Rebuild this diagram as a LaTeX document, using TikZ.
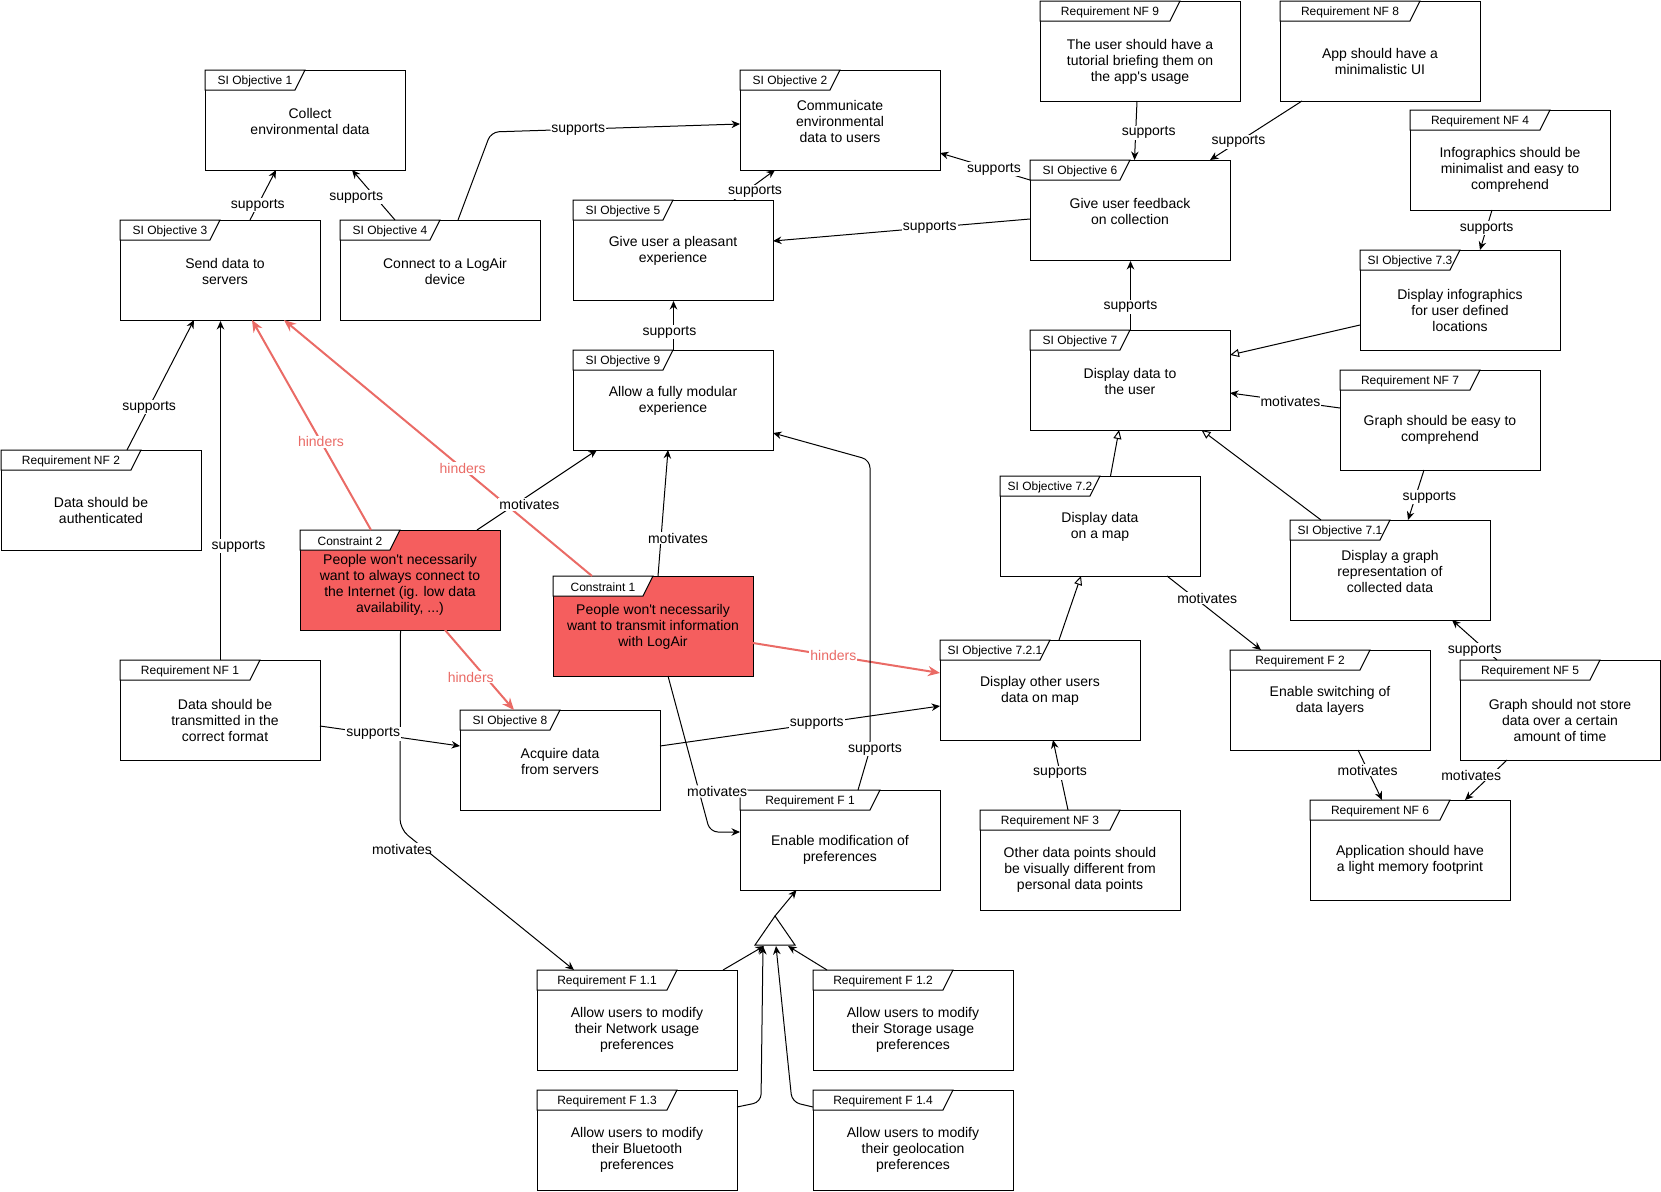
\documentclass[tikz,border=0pt]{standalone}
\usepackage{fontspec}
\setmainfont{Liberation Sans}
\usetikzlibrary{arrows.meta}
\definecolor{hred}{HTML}{EA6B66}
\definecolor{cfill}{HTML}{F55E5E}
\tikzset{
  frame/.style    = {draw, fill=white, line width=1pt, anchor=north west,
                     minimum width=200pt, minimum height=100pt, inner sep=0pt},
  cframe/.style   = {frame, fill=cfill},
  tabshape/.style = {draw, fill=white, line width=1pt},
  hdr/.style      = {font=\fontsize{12}{14}\selectfont, inner sep=0pt},
  body/.style     = {font=\fontsize{14}{16}\selectfont, align=center, inner sep=0pt},
  conn/.style     = {draw, line width=1pt, -{Stealth[length=8.5pt, width=7.5pt]}},
  gen/.style      = {draw, line width=1pt, -{Triangle[open, length=9pt, width=8pt]}},
  hind/.style     = {draw=hred, line width=2pt, -{Stealth[length=12pt, width=10pt]}},
  lbl/.style      = {fill=white, inner sep=1pt, font=\fontsize{14}{16}\selectfont},
  hlbl/.style     = {lbl, text=hred},
}
% frame with tab: [style]{name}{top left}{tab width}{header}{body}{body centre, from top left}
\newcommand{\frm}[7][frame]{%
  \node[#1] (#2) at (#3) {};
  \filldraw[tabshape] (#2.north west) -- ([shift={(#4,0)}]#2.north west)
    -- ([shift={({#4-10},20)}]#2.north west) -- ([shift={(0,20)}]#2.north west) -- cycle;
  \node[hdr] (#2-h) at ([shift={({#4/2},11.5)}]#2.north west) {#5};
  \node[body] (#2-b) at ([shift={(#7)}]#2.north west) {#6};
}
\newcommand{\q}{\textquotesingle}

\begin{document}
\begin{tikzpicture}[x=1pt,y=-1pt]
  \useasboundingbox (0,0) rectangle (1661,1191);

  % objectives
  \frm{sio1}{205,70}{100}{SI Objective 1}{Collect\\environmental data}{105,51}
  \frm{sio2}{740,70}{100}{SI Objective 2}{Communicate\\environmental\\data to users}{100,51}
  \frm{sio3}{120,220}{100}{SI Objective 3}{Send data to\\servers}{105,51}
  \frm{sio4}{340,220}{100}{SI Objective 4}{Connect to a LogAir\\device}{105,51}
  \frm{sio5}{573,200}{100}{SI Objective 5}{Give user a pleasant\\experience}{100,51}
  \frm{sio6}{1030,160}{100}{SI Objective 6}{Give user feedback\\on collection}{100,51}
  \frm{sio7}{1030,330}{100}{SI Objective 7}{Display data to\\the user}{100,51}
  \frm{sio71}{1290,520}{100}{SI Objective 7.1}{Display a graph\\representation of\\collected data}{100,51}
  \frm{sio72}{1000,476}{100}{SI Objective 7.2}{Display data\\on a map}{100,51}
  \frm{sio721}{940,640}{110}{SI Objective 7.2.1}{Display other users\\data on map}{100,51}
  \frm{sio73}{1360,250}{100}{SI Objective 7.3}{Display infographics\\for user defined\\locations}{100,60}
  \frm{sio8}{460,710}{100}{SI Objective 8}{Acquire data\\from servers}{100,51}
  \frm{sio9}{573,350}{100}{SI Objective 9}{Allow a fully modular\\experience}{100,51}

  % constraints
  \frm[cframe]{con1}{553,576}{100}{Constraint 1}{People won\q t necessarily\\want to transmit information\\with LogAir}{100,51}
  \frm[cframe]{con2}{300,530}{100}{Constraint 2}{People won\q t necessarily\\want to always connect to\\the Internet (ig. low data\\availability, ...)}{100,55}

  % requirements
  \frm{nf1}{120,660}{140}{Requirement NF 1}{Data should be\\transmitted in the\\correct format}{105,60}
  \frm{nf2}{1,450}{140}{Requirement NF 2}{Data should be\\authenticated}{100,60}
  \frm{nf3}{980,810}{140}{Requirement NF 3}{Other data points should\\be visually different from\\personal data points}{100,60}
  \frm{nf4}{1410,110}{140}{Requirement NF 4}{Infographics should be\\minimalist and easy to\\comprehend}{100,60}
  \frm{nf5}{1460,660}{140}{Requirement NF 5}{Graph should not store\\data over a certain\\amount of time}{100,60}
  \frm{nf6}{1310,800}{140}{Requirement NF 6}{Application should have\\a light memory footprint}{100,60}
  \frm{nf7}{1340,370}{140}{Requirement NF 7}{Graph should be easy to\\comprehend}{100,60}
  \frm{nf8}{1280,1}{140}{Requirement NF 8}{App should have a\\minimalistic UI}{100,60}
  \frm{nf9}{1040,1}{140}{Requirement NF 9}{The user should have a\\tutorial briefing them on\\the app\q s usage}{100,61}
  \frm{f1}{740,790}{140}{Requirement F 1}{Enable modification of\\preferences}{100,60}
  \frm{f11}{537,970}{140}{Requirement F 1.1}{Allow users to modify\\their Network usage\\preferences}{100,60}
  \frm{f12}{813,970}{140}{Requirement F 1.2}{Allow users to modify\\their Storage usage\\preferences}{100,60}
  \frm{f13}{537,1090}{140}{Requirement F 1.3}{Allow users to modify\\their Bluetooth\\preferences}{100,60}
  \frm{f14}{813,1090}{140}{Requirement F 1.4}{Allow users to modify\\their geolocation\\preferences}{100,60}
  \frm{f2}{1230,650}{140}{Requirement F 2}{Enable switching of\\data layers}{100,51}

  % hinders
  \draw[hind] ([shift={(71,0)}]con2.north west) -- node[hlbl,pos=.42]{hinders} ([shift={(132,100)}]sio3.north west);
  \draw[hind] ([shift={(39,0)}]con1.north west) -- node[hlbl,pos=.42]{hinders} ([shift={(164,100)}]sio3.north west);
  \draw[hind] ([shift={(145,100)}]con2.north west) -- node[hlbl,pos=.59,xshift=-15pt]{hinders} ([shift={(54,0)}]sio8.north west);
  \draw[hind] ([shift={(200,67)}]con1.north west) -- node[hlbl,pos=.43]{hinders} ([shift={(0,33)}]sio721.north west);

  % supports / motivates
  \draw[conn] ([shift={(130,0)}]sio3.north west) -- node[lbl,pos=.3]{supports} ([shift={(71,100)}]sio1.north west);
  \draw[conn] ([shift={(55,0)}]sio4.north west) -- node[lbl,pos=.46,xshift=-19pt]{supports} ([shift={(147,100)}]sio1.north west);
  \draw[conn, rounded corners=8pt] ([shift={(118,0)}]sio4.north west) -- (491,132)
    -- node[lbl,pos=.35]{supports} ([shift={(0,54)}]sio2.north west);
  \draw[conn] ([shift={(0,20)}]sio6.north west) -- node[lbl,pos=.4]{supports} ([shift={(200,83)}]sio2.north west);
  \draw[conn] ([shift={(161,0)}]sio5.north west) -- node[lbl,pos=.27,xshift=10pt]{supports} ([shift={(35,100)}]sio2.north west);
  \draw[conn] ([shift={(0,59)}]sio6.north west) -- node[lbl,pos=.39]{supports} ([shift={(200,41)}]sio5.north west);
  \draw[conn] (sio9.north) -- node[lbl,pos=.36,xshift=-4pt]{supports} (sio5.south);
  \draw[conn] ([shift={(177,0)}]con2.north west) -- node[lbl,pos=.37,xshift=8pt,yshift=-4pt]{motivates} ([shift={(24,100)}]sio9.north west);
  \draw[conn] ([shift={(105,0)}]con1.north west) -- node[lbl,pos=.3,xshift=17pt]{motivates} ([shift={(95,100)}]sio9.north west);
  \draw[conn, rounded corners=10pt] (con2.south) -- (400,829) node[lbl,xshift=2pt,yshift=-20pt]{motivates}
    -- ([shift={(37,0)}]f11.north west);
  \draw[conn, rounded corners=8pt] ([shift={(115,100)}]con1.north west) -- node[lbl,pos=.74,xshift=18pt]{motivates} (710,832)
    -- ([shift={(0,42)}]f1.north west);
  \draw[conn, rounded corners=8pt] ([shift={(118,0)}]f1.north west) -- (870,749) node[lbl,xshift=5pt]{supports}
    -- (870,460) -- ([shift={(200,83)}]sio9.north west);
  \draw[conn] ([shift={(200,36)}]sio8.north west) -- node[lbl,pos=.56]{supports} ([shift={(0,66)}]sio721.north west);
  \draw[conn] ([shift={(200,66)}]nf1.north west) -- node[lbl,pos=.38]{supports} ([shift={(0,36)}]sio8.north west);
  \draw[conn] (nf1.north) -- node[lbl,pos=.335,xshift=18pt]{supports} (sio3.south);
  \draw[conn] ([shift={(126,0)}]nf2.north west) -- node[lbl,pos=.33]{supports} ([shift={(74,100)}]sio3.north west);
  \draw[conn] ([shift={(97,100)}]nf9.north west) -- node[lbl,pos=.54,xshift=13pt]{supports} ([shift={(104.5,0)}]sio6.north west);
  \draw[conn] ([shift={(22,100)}]nf8.north west) -- node[lbl,pos=.69]{supports} ([shift={(180,0)}]sio6.north west);
  \draw[conn] ([shift={(82,100)}]nf4.north west) -- node[lbl,pos=.45]{supports} ([shift={(120,0)}]sio73.north west);
  \draw[conn] (sio7.north) -- node[lbl,pos=.34]{supports} (sio6.south);
  \draw[conn] ([shift={(0,38)}]nf7.north west) -- node[lbl,pos=.45]{motivates} ([shift={(200,63)}]sio7.north west);
  \draw[conn] ([shift={(84,100)}]nf7.north west) -- node[lbl,pos=.54,xshift=14pt]{supports} ([shift={(118,0)}]sio71.north west);
  \draw[conn] ([shift={(167,100)}]sio72.north west) -- node[lbl,pos=.3,xshift=12pt]{motivates} ([shift={(31,0)}]f2.north west);
  \draw[conn] ([shift={(128,100)}]f2.north west) -- node[lbl,pos=.4]{motivates} ([shift={(72,0)}]nf6.north west);
  \draw[conn] ([shift={(47,100)}]nf5.north west) -- node[lbl,pos=.375,xshift=-20pt]{motivates} ([shift={(155,0)}]nf6.north west);
  \draw[conn] ([shift={(37,0)}]nf5.north west) -- node[lbl,pos=.25,xshift=-11pt]{supports} ([shift={(162,100)}]sio71.north west);
  \draw[conn] ([shift={(88,0)}]nf3.north west) -- node[lbl,pos=.53]{supports} ([shift={(113,100)}]sio721.north west);

  % refinements of objective 7
  \draw[gen] ([shift={(0,75)}]sio73.north west) -- ([shift={(200,25)}]sio7.north west);
  \draw[gen] ([shift={(110.5,0)}]sio72.north west) -- ([shift={(89,100)}]sio7.north west);
  \draw[gen] ([shift={(31,0)}]sio71.north west) -- ([shift={(171.5,100)}]sio7.north west);
  \draw[gen] ([shift={(119,0)}]sio721.north west) -- ([shift={(81,100)}]sio72.north west);

  % F 1.x merge
  \coordinate (mrg) at (775,945);
  \filldraw[tabshape] ([shift={(-20,0)}]mrg) -- ([shift={(0,-29)}]mrg) -- ([shift={(20,0)}]mrg) -- cycle;
  \draw[conn] ([shift={(186,0)}]f11.north west) -- ([shift={(-11,1)}]mrg);
  \draw[conn] ([shift={(14,0)}]f12.north west) -- ([shift={(13,1)}]mrg);
  \draw[conn, rounded corners=8pt] ([shift={(200,17)}]f13.north west) -- (761,1102) -- ([shift={(-12,1)}]mrg);
  \draw[conn, rounded corners=8pt] ([shift={(0,17)}]f14.north west) -- (792,1102) -- ([shift={(1,1)}]mrg);
  \draw[conn] ([shift={(0,-29)}]mrg) -- ([shift={(56.5,100)}]f1.north west);
\end{tikzpicture}
\end{document}
